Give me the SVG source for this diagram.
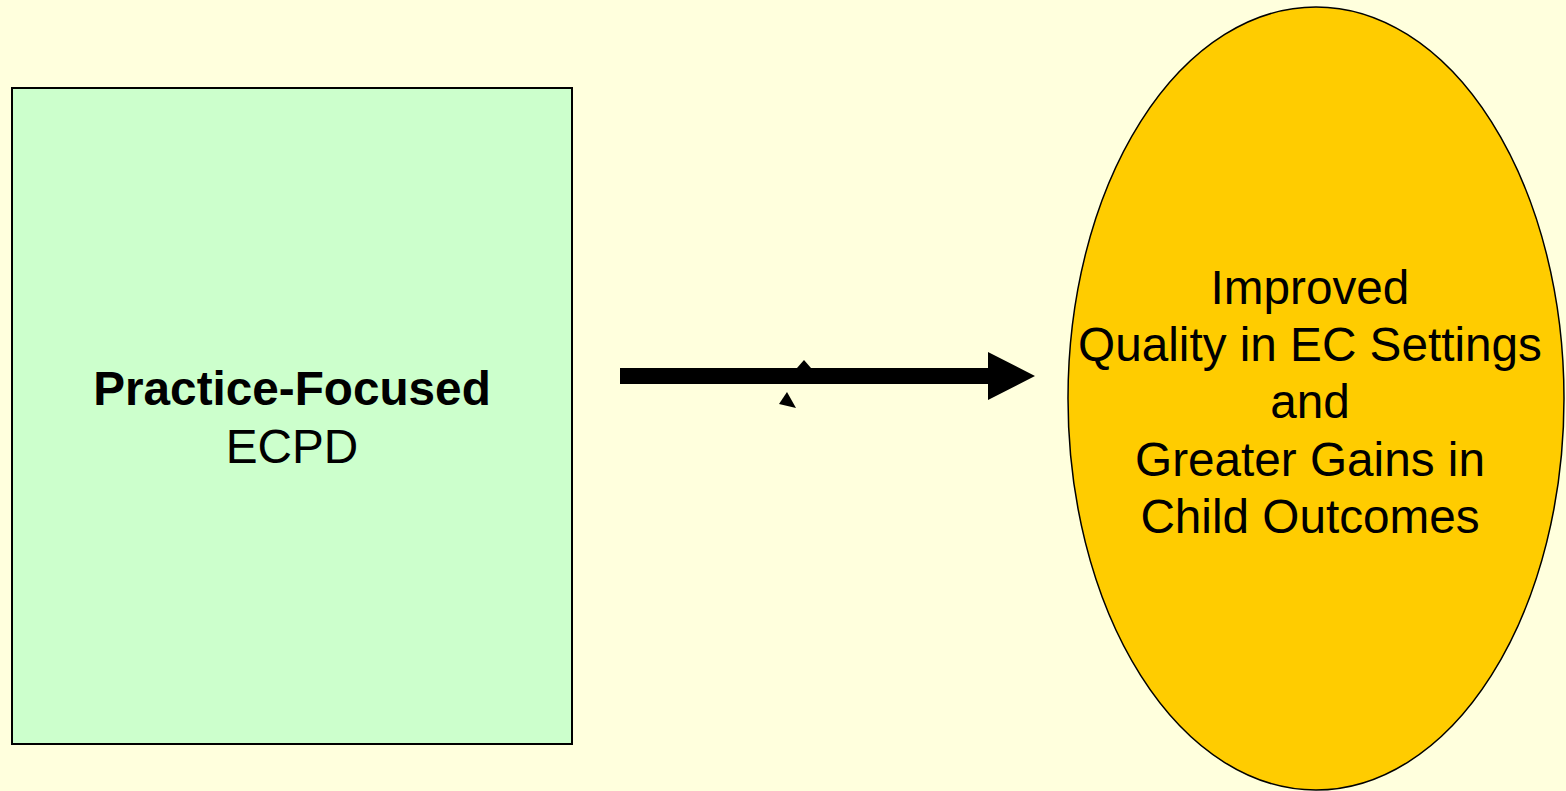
<svg xmlns="http://www.w3.org/2000/svg" width="1566" height="791" viewBox="0 0 1566 791">
<style>
text{font-family:"Liberation Sans",Arial,sans-serif;font-size:47.7px;fill:#000;text-anchor:middle}
.b{font-weight:bold}
</style>
<rect width="1566" height="791" fill="#ffffdd"/>
<g id="practice">
<rect x="12" y="88" width="560" height="656" fill="#ccffcc" stroke="#000" stroke-width="2"/>
<text x="292" y="405" class="b">Practice-Focused</text>
<text x="292" y="463">ECPD</text>
</g>
<g id="outcomes">
<ellipse cx="1316" cy="398.5" rx="248" ry="391.5" fill="#ffcc00" stroke="#000" stroke-width="1.5"/>
<text x="1310" y="304">Improved</text>
<text x="1310" y="361">Quality in EC Settings</text>
<text x="1310" y="418">and</text>
<text x="1310" y="476">Greater Gains in</text>
<text x="1310" y="533">Child Outcomes</text>
</g>
<g id="connectors">
<polygon points="620,368 988,368 988,352 1035,376 988,400 988,384 620,384" fill="#000"/>
<polygon points="797,368 804,360 811,368" fill="#000"/>
<polygon points="779,404 787,392 796,408" fill="#000"/>
</g>
</svg>
